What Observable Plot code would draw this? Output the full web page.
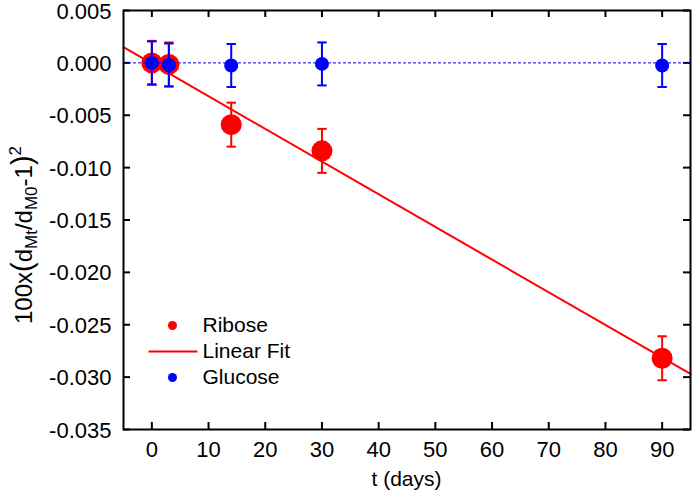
<!DOCTYPE html>
<html><head><meta charset="utf-8">
<script src="https://cdn.jsdelivr.net/npm/d3@7"></script>
<script src="https://cdn.jsdelivr.net/npm/@observablehq/plot@0.6"></script>
<style>body{margin:0;background:#fff} #chart{width:692px;height:493px}</style>
</head><body><div id="chart"></div>
<script>
// ---- data ----
const days = [0, 3, 14, 30, 90];
const riboseY = [0.0000, -0.00015, -0.0059, -0.0084, -0.0282];
const riboseErr = [0.0021, 0.0021, 0.0021, 0.0021, 0.0021];
const glucoseY = [0.0000, -0.0002, -0.00025, -0.0001, -0.00025];
const glucoseErr = [0.00205, 0.00205, 0.00205, 0.00205, 0.00205];
const fitIntercept = -0.00006;
const fitSlope = -0.000312;
const refLine = [0];
const xDomain = [-5, 95];
const yDomain = [-0.035, 0.005];
const xTicks = [0, 10, 20, 30, 40, 50, 60, 70, 80, 90];
const yTicks = [0.005, 0.000, -0.005, -0.010, -0.015, -0.020, -0.025, -0.030, -0.035];
const legendLabels = ["Ribose", "Linear Fit", "Glucose"];
const xLabel = "t (days)";

// ---- layout ----
const W = 692, H = 493, mL = 123, mR = 2, mT = 10, mB = 64;
const innerW = W - mL - mR, innerH = H - mT - mB;
const RED = "#ff0000", BLUE = "#0000ff";

const ribose = days.map((d, i) => ({x: d, y: riboseY[i], lo: riboseY[i] - riboseErr[i], hi: riboseY[i] + riboseErr[i]}));
const glucose = days.map((d, i) => ({x: d, y: glucoseY[i], lo: glucoseY[i] - glucoseErr[i], hi: glucoseY[i] + glucoseErr[i]}));
const fit = xDomain.map(x => ({x, y: fitIntercept + fitSlope * x}));

const capSymbol = {draw(ctx) { ctx.moveTo(-4.7, 0); ctx.lineTo(4.7, 0); }};
const legLineSymbol = {draw(ctx) { ctx.moveTo(-24.5, 0); ctx.lineTo(24.5, 0); }};

const caps = (data, color) => [
  Plot.dot(data, {x: "x", y: "hi", symbol: capSymbol, stroke: color, fill: "none", strokeWidth: 2}),
  Plot.dot(data, {x: "x", y: "lo", symbol: capSymbol, stroke: color, fill: "none", strokeWidth: 2})
];

const one = [{}];
const legText = (i, dy) => Plot.text([legendLabels[i]], {frameAnchor: "bottom-left", dx: 79, dy, text: d => d,
  textAnchor: "start", lineAnchor: "middle", fontSize: 21, fill: "#000"});

const chart = Plot.plot({
  width: W, height: H,
  marginLeft: mL, marginRight: mR, marginTop: mT, marginBottom: mB,
  style: {fontFamily: "'Liberation Sans', Arial, sans-serif", fontSize: "21px", background: "#fff", color: "#000"},
  x: {domain: xDomain},
  y: {domain: yDomain},
  marks: [
    // axis labels
    Plot.axisX(xTicks, {tickSize: 0, tickPadding: 12, label: null, fontSize: 22}),
    Plot.axisY(yTicks, {tickSize: 0, tickPadding: 12, label: null, fontSize: 22, dy: 1, tickFormat: d => d.toFixed(3)}),
    // inward ticks on all four sides
    Plot.tickX(xTicks, {x: d => d, insetTop: innerH - 7, stroke: "#000", strokeWidth: 2}),
    Plot.tickX(xTicks, {x: d => d, insetBottom: innerH - 7, stroke: "#000", strokeWidth: 2}),
    Plot.tickY(yTicks, {y: d => d, insetRight: innerW - 7, stroke: "#000", strokeWidth: 2}),
    Plot.tickY(yTicks, {y: d => d, insetLeft: innerW - 7, stroke: "#000", strokeWidth: 2}),
    // ribose
    Plot.ruleX(ribose, {x: "x", y1: "lo", y2: "hi", stroke: RED, strokeWidth: 2}),
    ...caps(ribose, RED),
    Plot.dot(ribose, {x: "x", y: "y", r: 10.5, fill: RED, stroke: "none"}),
    Plot.line(fit, {x: "x", y: "y", stroke: RED, strokeWidth: 2}),
    // glucose
    Plot.ruleY(refLine, {y: d => d, stroke: BLUE, strokeWidth: 1, strokeDasharray: "3,2"}),
    Plot.ruleX(glucose, {x: "x", y1: "lo", y2: "hi", stroke: BLUE, strokeWidth: 2}),
    ...caps(glucose, BLUE),
    Plot.dot(glucose, {x: "x", y: "y", r: 7, fill: BLUE, stroke: "none"}),
    // legend
    Plot.dot(one, {frameAnchor: "bottom-left", dx: 49, dy: -104, r: 4.5, fill: RED}),
    Plot.dot(one, {frameAnchor: "bottom-left", dx: 49.5, dy: -78, symbol: legLineSymbol, stroke: RED, fill: "none", strokeWidth: 2}),
    Plot.dot(one, {frameAnchor: "bottom-left", dx: 49, dy: -52, r: 4.5, fill: BLUE}),
    legText(0, -104),
    legText(1, -78),
    legText(2, -52),
    Plot.frame({stroke: "#000", strokeWidth: 2})
  ]
});
document.getElementById("chart").appendChild(chart);

const svg = d3.select(chart);

// axis title x
svg.append("text").attr("x", mL + innerW / 2).attr("y", 486).attr("text-anchor", "middle")
  .attr("font-size", 21).attr("fill", "#000").text(xLabel);

// axis title y with sub/superscripts
const yl = svg.append("text").attr("transform", "translate(32,235) rotate(-90)").attr("text-anchor", "middle")
  .attr("font-size", 24).attr("fill", "#000");
const parts = [
  ["100x", 0, null], ["(", 0, 29], ["d", 0, null], ["Mt", 5, 17], ["/d", -5, null], ["M0", 5, 17],
  ["-1", -5, null], [")", 0, 29], ["2", -11, 17]
];
parts.forEach(([s, dy, fs]) => {
  const t = yl.append("tspan").text(s);
  if (dy) t.attr("dy", dy);
  if (fs) t.attr("font-size", fs);
});
</script>
</body></html>
